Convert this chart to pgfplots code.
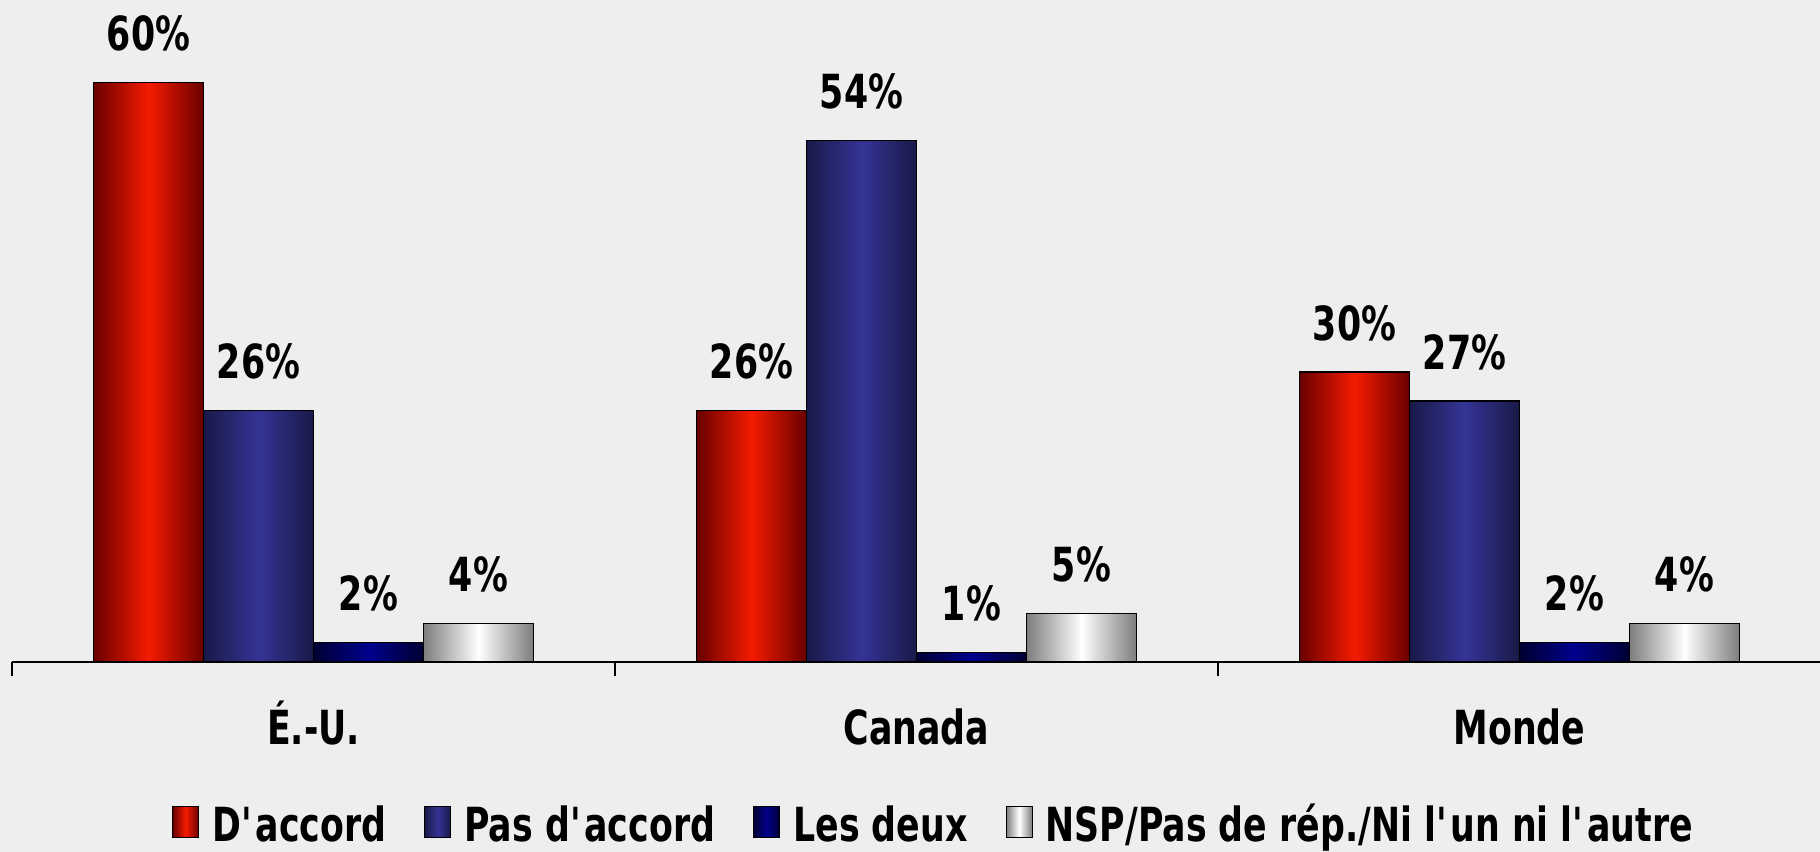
\documentclass[border=0pt]{standalone}
\usepackage{fontspec}
\setmainfont{DejaVu Sans}[FakeStretch=0.74]
\usepackage{pgfplots}
\pgfplotsset{compat=1.18}
\definecolor{bg}{RGB}{238,238,238}
\definecolor{redE}{RGB}{105,0,0}
\definecolor{redM}{RGB}{245,27,0}
\definecolor{bluE}{RGB}{25,25,72}
\definecolor{bluM}{RGB}{52,52,150}
\definecolor{navE}{RGB}{0,0,50}
\definecolor{navM}{RGB}{0,0,140}
\definecolor{whE}{RGB}{125,125,125}
\definecolor{whM}{RGB}{255,255,255}
\newcommand{\lblfont}{\bfseries\fontsize{23.5bp}{28bp}\selectfont}
\pgfplotsset{
  barbase/.style={ybar, bar width=55bp, bar shift=0pt, draw=black, line width=0.6bp},
  redbar/.style={barbase, left color=redE, right color=redE, middle color=redM},
  blubar/.style={barbase, left color=bluE, right color=bluE, middle color=bluM},
  navbar/.style={barbase, left color=navE, right color=navE, middle color=navM},
  whbar/.style={barbase, left color=whE, right color=whE, middle color=whM},
}
\begin{document}
\begin{tikzpicture}
\fill[bg] (0,0) rectangle (910bp,426bp);
\begin{axis}[
  at={(6bp,95bp)}, anchor=south west,
  scale only axis, width=904.5bp, height=331bp,
  xmin=-0.5, xmax=2.5, ymin=0, ymax=68.5,
  hide y axis,
  axis x line*=bottom,
  x axis line style={line width=1bp, black},
  xtick={0,1,2}, xticklabels={É.-U.,Canada,Monde},
  major tick length=0pt,
  minor xtick={-0.5,0.5,1.5,2.5}, minor tick length=7bp,
  tick align=outside,
  every tick/.style={line width=1bp, black},
  xticklabel style={font=\lblfont, anchor=base, yshift=-41bp},
  clip=false,
  /pgf/number format/assume math mode=true,
  nodes near coords={\pgfmathprintnumber{\pgfplotspointmeta}\%},
  every node near coord/.append style={font=\lblfont, anchor=base, yshift=16bp, text=black},
  legend columns=-1,
  legend style={at={(0.5,0)}, anchor=north, yshift=-67bp, xshift=9bp, draw=none, fill=none,
    font=\lblfont, /tikz/every even column/.append style={column sep=17bp}},
  legend image code/.code={\draw[#1,/tikz/.cd,line width=0.6bp] (0bp,-6.5bp) rectangle (13bp,9bp);
    \path (17.5bp,0bp);},
]
% group offsets: -0.2736, -0.0912, 0.0912, 0.2736
\addplot[redbar] coordinates {(-0.2736,60)};
\addplot[blubar] coordinates {(-0.0912,26)};
\addplot[navbar] coordinates {(0.0912,2)};
\addplot[whbar] coordinates {(0.2736,4)};
\addplot[redbar, forget plot] coordinates {(0.7264,26)};
\addplot[blubar, forget plot] coordinates {(0.9088,54)};
\addplot[navbar, forget plot] coordinates {(1.0912,1)};
\addplot[whbar, forget plot] coordinates {(1.2736,5)};
\addplot[redbar, forget plot] coordinates {(1.7264,30)};
\addplot[blubar, forget plot] coordinates {(1.9088,27)};
\addplot[navbar, forget plot] coordinates {(2.0912,2)};
\addplot[whbar, forget plot] coordinates {(2.2736,4)};
\legend{D\textquotesingle accord, Pas d\textquotesingle accord, Les deux, NSP/Pas de rép./Ni l\textquotesingle un ni l\textquotesingle autre}
\end{axis}
\pgfresetboundingbox
\path[use as bounding box] (0,0) rectangle (910bp,426bp);
\end{tikzpicture}
\end{document}
